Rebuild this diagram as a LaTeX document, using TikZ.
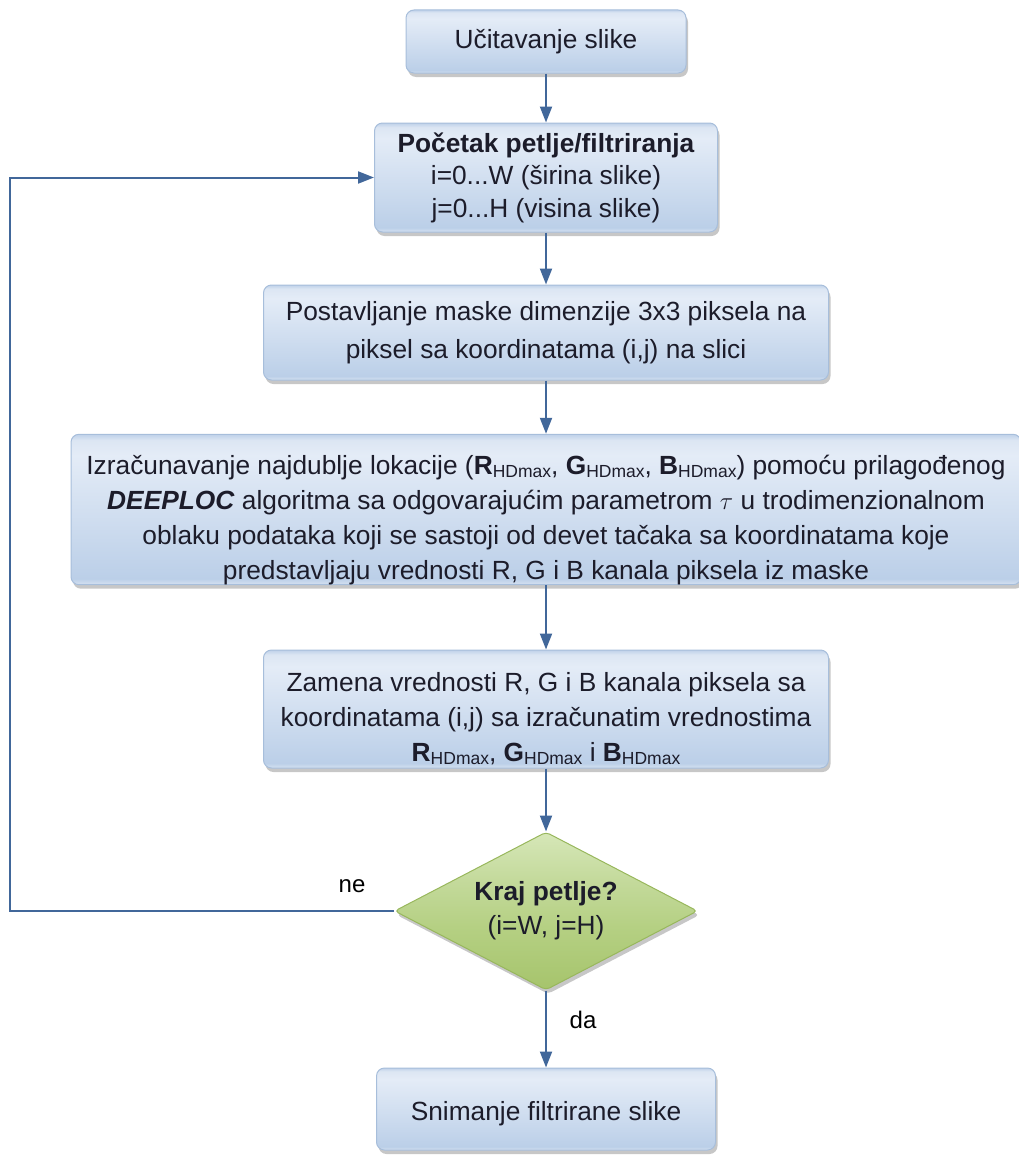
\documentclass[tikz,border=0pt]{standalone}
\usepackage{fontspec}
\setmainfont{Liberation Sans}
\usetikzlibrary{arrows.meta,shapes.geometric,shadows}
\definecolor{gbA}{HTML}{D6E2F1}
\definecolor{gbB}{HTML}{BBCFE8}
\definecolor{gbC}{HTML}{E4ECF7}
\definecolor{gbD}{HTML}{DCE6F3}
\definecolor{gbE}{HTML}{BFD1E9}
\definecolor{boxborder}{HTML}{A7BEDB}
\definecolor{grA}{HTML}{B5D083}
\definecolor{grB}{HTML}{A6C46C}
\definecolor{grC}{HTML}{C4DA9C}
\definecolor{grD}{HTML}{D6E7B8}
\definecolor{grborder}{HTML}{98B75C}
\definecolor{arrowc}{HTML}{41679A}
\definecolor{txt}{HTML}{1C1C2A}
\pgfdeclareverticalshading{glassblue}{100bp}{color(0bp)=(gbA); color(25bp)=(gbA); color(27bp)=(gbB); color(68bp)=(gbC); color(73bp)=(gbD); color(75bp)=(gbE); color(100bp)=(gbE)}
\pgfdeclareverticalshading{glassgreen}{100bp}{color(0bp)=(grB); color(25bp)=(grB); color(45bp)=(grA); color(60bp)=(grC); color(75bp)=(grD); color(100bp)=(grD)}
\newcommand{\hdm}[1]{\textbf{#1}\raisebox{-0.12em}{\fontsize{17.5}{17.5}\selectfont HDmax}}
\newcommand{\topgap}[1]{\rule{0pt}{#1}}
\begin{document}
\begin{tikzpicture}[x=1pt,y=-1pt,
  every node/.style={text=txt,font=\fontsize{26.3}{34}\selectfont},
  box/.style={draw=boxborder,line width=1pt,rounded corners=8pt,shading=glassblue,
    align=center,inner sep=0pt,
    drop shadow={shadow xshift=2pt,shadow yshift=-4pt,opacity=0.22,fill=black}},
  decision/.style={diamond,draw=grborder,line width=1pt,rounded corners=4pt,shading=glassgreen,align=center,
    inner sep=0pt,aspect=1.92,minimum width=303pt,minimum height=158pt,
    drop shadow={shadow xshift=2pt,shadow yshift=-4pt,opacity=0.22,fill=black}},
  arr/.style={draw=arrowc,line width=2pt,-{Triangle[length=16pt,width=12pt]}},
  lbl/.style={text=black,font=\fontsize{24}{28}\selectfont}]
\useasboundingbox (0,0) rectangle (1019,1156);

\node[box,minimum width=280pt,minimum height=63pt] (n1) at (546,41.5) {Učitavanje slike};
\node[box,minimum width=343pt,minimum height=109pt,font=\fontsize{26.3}{32.5}\selectfont] (n2) at (546,177.5)
  {\textbf{Početak petlje/filtriranja}\\ i=0...W (širina slike)\\ j=0...H (visina slike)};
\node[box,minimum width=565pt,minimum height=95pt,font=\fontsize{26.3}{38}\selectfont] (n3) at (546,332.5)
  {Postavljanje maske dimenzije 3x3 piksela na\\ piksel sa koordinatama (i,j) na slici};
\node[box,minimum width=950pt,minimum height=147pt,font=\fontsize{26.3}{35}\selectfont] (n4) at (546,509.5)
  {\topgap{40pt}Izračunavanje najdublje lokacije (\hdm{R}, \hdm{G}, \hdm{B}) pomoću prilagođenog\\
   \textbf{\textit{DEEPLOC}} algoritma sa odgovarajućim parametrom $\tau$ u trodimenzionalnom\\
   oblaku podataka koji se sastoji od devet tačaka sa koordinatama koje\\
   predstavljaju vrednosti R, G i B kanala piksela iz maske};
\node[box,minimum width=565pt,minimum height=118pt,font=\fontsize{26.3}{35}\selectfont] (n5) at (546,709)
  {\topgap{38pt}Zamena vrednosti R, G i B kanala piksela sa\\ koordinatama (i,j) sa izračunatim vrednostima\\
   \hdm{R}, \hdm{G} i \hdm{B}};
\node[decision] (dec) at (546,911) {\textbf{Kraj petlje?}\\ (i=W, j=H)};
\node[box,minimum width=339pt,minimum height=82pt] (n7) at (546,1109) {\topgap{28pt}Snimanje filtrirane slike};

\coordinate (lp) at (10,911);
\draw[arr] (n1) -- (n2);
\draw[arr] (n2) -- (n3);
\draw[arr] (n3) -- (n4);
\draw[arr] (n4) -- (n5);
\draw[arr] (n5) -- (dec);
\draw[arr] (dec) -- (n7);
\draw[arr] (dec.west) -- (lp) |- (n2.west);

\node[lbl] (ne) at (352,886) {ne};
\node[lbl] (da) at (583,1020) {da};
\end{tikzpicture}
\end{document}
